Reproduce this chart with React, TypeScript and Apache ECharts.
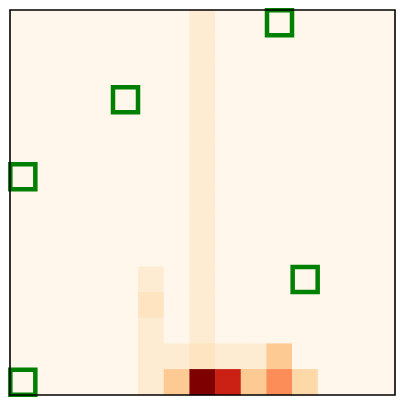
import React, { useEffect, useRef } from "react";
import * as echarts from "echarts";

const cols = Array.from({ length: 15 }, (_, i) => String(i));
const rows = Array.from({ length: 15 }, (_, i) => String(i));

// heat values by row (top to bottom), 15 columns each
const heatRows: number[][] = [
  [0, 0, 0, 0, 0, 0, 0, 9, 0, 0, 0, 0, 0, 0, 0],
  [0, 0, 0, 0, 0, 0, 0, 9, 0, 0, 0, 0, 0, 0, 0],
  [0, 0, 0, 0, 0, 0, 0, 9, 0, 0, 0, 0, 0, 0, 0],
  [0, 0, 0, 0, 0, 0, 0, 9, 0, 0, 0, 0, 0, 0, 0],
  [0, 0, 0, 0, 0, 0, 0, 9, 0, 0, 0, 0, 0, 0, 0],
  [0, 0, 0, 0, 0, 0, 0, 9, 0, 0, 0, 0, 0, 0, 0],
  [0, 0, 0, 0, 0, 0, 0, 9, 0, 0, 0, 0, 0, 0, 0],
  [0, 0, 0, 0, 0, 0, 0, 9, 0, 0, 0, 0, 0, 0, 0],
  [0, 0, 0, 0, 0, 0, 0, 9, 0, 0, 0, 0, 0, 0, 0],
  [0, 0, 0, 0, 0, 0, 0, 9, 0, 0, 0, 0, 0, 0, 0],
  [0, 0, 0, 0, 0, 9, 0, 9, 0, 0, 0, 0, 0, 0, 0],
  [0, 0, 0, 0, 0, 15, 0, 9, 0, 0, 0, 0, 0, 0, 0],
  [0, 0, 0, 0, 0, 9, 0, 9, 0, 0, 0, 0, 0, 0, 0],
  [0, 0, 0, 0, 0, 9, 9, 15, 9, 9, 30, 0, 0, 0, 0],
  [0, 0, 0, 0, 0, 9, 30, 100, 79, 30, 50, 22, 0, 0, 0],
];

// marked cells [col, row]
const markCols = [10, 4, 0, 11, 0];
const markRows = [0, 3, 6, 10, 14];

const orRd = ["#fff7ec", "#fee8c8", "#fdd49e", "#fdbb84", "#fc8d59", "#ef6548", "#d7301f", "#b30000", "#7f0000"];

export default function App() {
  const ref = useRef<HTMLDivElement>(null);
  useEffect(() => {
    document.body.style.margin = "0";
    const chart = echarts.init(ref.current!, null, { renderer: "svg" });
    const heatData: number[][] = [];
    heatRows.forEach((r, ri) => r.forEach((v, ci) => heatData.push([ci, ri, v])));
    const marks = markCols.map((c, i) => [c, markRows[i]]);
    chart.setOption({
      animation: false,
      grid: { left: 10, top: 10, width: 385, height: 385 },
      xAxis: {
        type: "category",
        data: cols,
        axisLine: { show: false },
        axisTick: { show: false },
        axisLabel: { show: false },
        splitLine: { show: false },
      },
      yAxis: {
        type: "category",
        data: rows,
        inverse: true,
        axisLine: { show: false },
        axisTick: { show: false },
        axisLabel: { show: false },
        splitLine: { show: false },
      },
      visualMap: {
        show: false,
        seriesIndex: 0,
        min: 0,
        max: 100,
        dimension: 2,
        inRange: { color: orRd },
      },
      series: [
        {
          type: "heatmap",
          data: heatData,
          itemStyle: { borderWidth: 0 },
          emphasis: { disabled: true },
        },
        {
          type: "scatter",
          data: marks,
          symbol: "rect",
          symbolSize: 25,
          clip: true,
          itemStyle: { color: "rgba(0,0,0,0)", borderColor: "#008000", borderWidth: 4.5, opacity: 1 },
          emphasis: { disabled: true },
          z: 5,
        },
      ],
      graphic: [
        {
          type: "rect",
          z: 100,
          shape: { x: 10, y: 10, width: 385, height: 385 },
          style: { fill: "none", stroke: "#000", lineWidth: 1.6 },
          silent: true,
        },
      ],
    });
    return () => chart.dispose();
  }, []);
  return <div ref={ref} style={{ width: 405, height: 405 }} />;
}
